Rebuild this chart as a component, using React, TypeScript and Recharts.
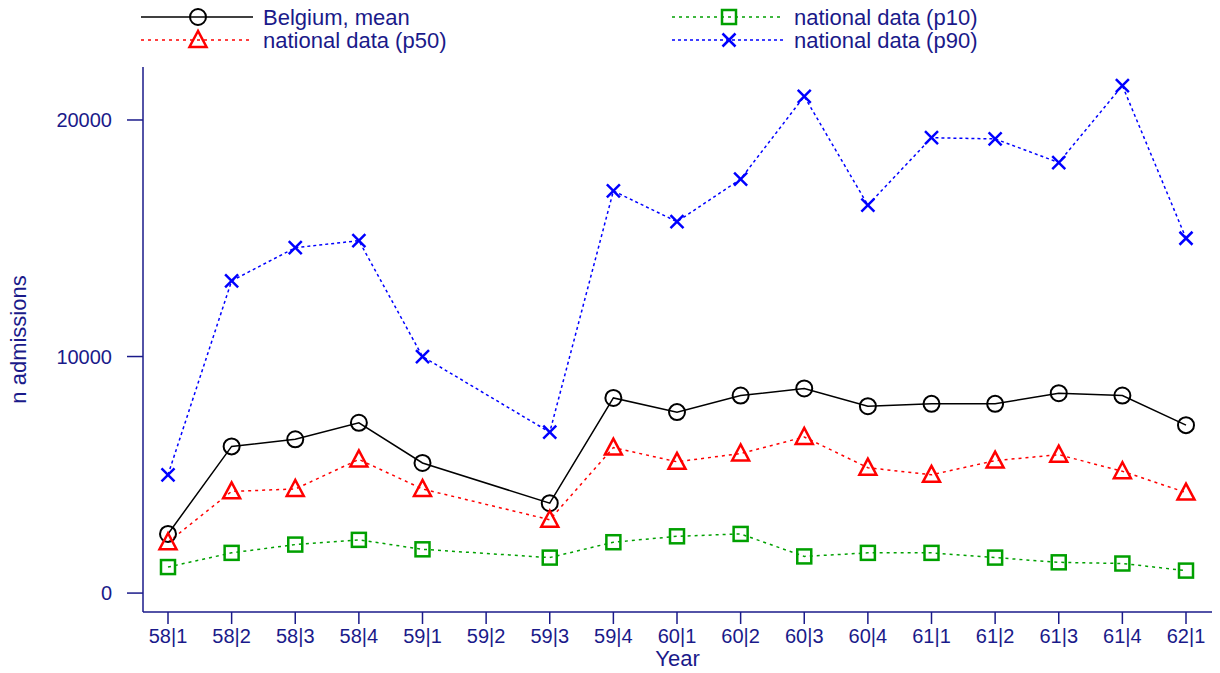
import * as React from 'react'
import { LineChart, XAxis, YAxis, Line, Legend } from 'recharts'

const periods = [
  '58|1', '58|2', '58|3', '58|4', '59|1', '59|2', '59|3', '59|4',
  '60|1', '60|2', '60|3', '60|4', '61|1', '61|2', '61|3', '61|4', '62|1',
]

const belgiumMean = [2500, 6200, 6500, 7200, 5500, null, 3800, 8250, 7650, 8350, 8650, 7900, 8000, 8000, 8450, 8350, 7100]
const p10 = [1100, 1700, 2050, 2250, 1850, null, 1500, 2150, 2400, 2500, 1550, 1700, 1700, 1500, 1300, 1250, 950]
const p50 = [2150, 4300, 4400, 5650, 4400, null, 3100, 6150, 5550, 5900, 6600, 5300, 5000, 5600, 5850, 5150, 4250]
const p90 = [5000, 13200, 14600, 14900, 10000, null, 6800, 17000, 15700, 17500, 21000, 16400, 19250, 19200, 18200, 21450, 15000]

const yTicks = [0, 10000, 20000]

const NAVY = '#1a1a8a'
const FONT = '"Liberation Sans", Arial, Helvetica, sans-serif'

type Marker = 'circle' | 'triangle' | 'square' | 'x'

const series: { key: string; name: string; color: string; dash?: string; marker: Marker }[] = [
  { key: 'mean', name: 'Belgium, mean', color: '#000000', marker: 'circle' },
  { key: 'p10', name: 'national data (p10)', color: '#00a000', dash: '3 4', marker: 'square' },
  { key: 'p50', name: 'national data (p50)', color: '#ff0000', dash: '3 4', marker: 'triangle' },
  { key: 'p90', name: 'national data (p90)', color: '#0000ff', dash: '3 3', marker: 'x' },
]

const data = periods.map((period, i) => ({
  period,
  mean: belgiumMean[i],
  p10: p10[i],
  p50: p50[i],
  p90: p90[i],
}))

function drawMarker(kind: Marker, cx: number, cy: number, color: string, key?: string) {
  if (kind === 'circle')
    return <circle key={key} cx={cx} cy={cy} r={8} fill="none" stroke={color} strokeWidth={2} />
  if (kind === 'triangle')
    return (
      <polygon
        key={key}
        points={`${cx},${cy - 9} ${cx - 8.5},${cy + 7} ${cx + 8.5},${cy + 7}`}
        fill="none"
        stroke={color}
        strokeWidth={2.5}
      />
    )
  if (kind === 'square')
    return <rect key={key} x={cx - 7} y={cy - 7} width={14} height={14} fill="none" stroke={color} strokeWidth={2.5} />
  return (
    <g key={key} stroke={color} strokeWidth={2.5}>
      <line x1={cx - 6.5} y1={cy - 6.5} x2={cx + 6.5} y2={cy + 6.5} />
      <line x1={cx - 6.5} y1={cy + 6.5} x2={cx + 6.5} y2={cy - 6.5} />
    </g>
  )
}

const legendSlots = [
  { x: 133, y: 9 },
  { x: 664, y: 9 },
  { x: 133, y: 32 },
  { x: 664, y: 32 },
]

const LegendBox = () => (
  <svg width={1212} height={52} style={{ display: 'block', overflow: 'visible' }}>
    {series.map((s, i) => {
      const { x, y } = legendSlots[i]
      return (
        <g key={s.key}>
          <line x1={x} y1={y} x2={x + 112} y2={y} stroke={s.color} strokeWidth={1.5} strokeDasharray={s.dash} />
          {drawMarker(s.marker, x + 57, y, s.color)}
          <text x={x + 122} y={y + 8} fill={NAVY} fontSize={22} fontFamily={FONT}>
            {s.name}
          </text>
        </g>
      )
    })}
  </svg>
)

export default function App() {
  return (
    <div>
      <LineChart width={1212} height={665} data={data} margin={{ top: 7, right: 8, bottom: 0, left: 0 }}>
        <Legend
          verticalAlign="top"
          content={() => <LegendBox />}
          wrapperStyle={{ top: 0, left: 0, width: 1212, height: 52 }}
        />
        <XAxis
          dataKey="period"
          height={61}
          padding={{ left: 25, right: 26 }}
          stroke={NAVY}
          strokeWidth={1.5}
          tickSize={12}
          tickMargin={5}
          interval={0}
          tick={{ fill: NAVY, fontSize: 20, fontFamily: FONT }}
          tickLine={{ stroke: NAVY, strokeWidth: 1.5 }}
          label={{ value: 'Year', position: 'insideBottom', offset: 7, fill: NAVY, fontSize: 22, fontFamily: FONT }}
        />
        <YAxis
          type="number"
          width={135}
          domain={[-800, 22240]}
          allowDataOverflow
          ticks={yTicks}
          stroke={NAVY}
          strokeWidth={1.5}
          tickSize={16}
          tickMargin={15}
          tick={{ fill: NAVY, fontSize: 20, fontFamily: FONT }}
          tickLine={{ stroke: NAVY, strokeWidth: 1.5 }}
          label={{
            value: 'n admissions',
            angle: -90,
            position: 'insideLeft',
            offset: 10,
            fill: NAVY,
            fontSize: 22,
            fontFamily: FONT,
            style: { textAnchor: 'middle' },
          }}
        />
        {series.map((s) => (
          <Line
            key={s.key}
            type="linear"
            dataKey={s.key}
            name={s.name}
            stroke={s.color}
            strokeWidth={1.5}
            strokeDasharray={s.dash}
            connectNulls
            isAnimationActive={false}
            dot={(props: any) => {
              const { cx, cy, index } = props
              if (cx == null || cy == null || props.value == null) return <g key={`${s.key}-${index}`} />
              return drawMarker(s.marker, cx, cy, s.color, `${s.key}-${index}`)
            }}
            activeDot={false}
          />
        ))}
      </LineChart>
    </div>
  )
}
